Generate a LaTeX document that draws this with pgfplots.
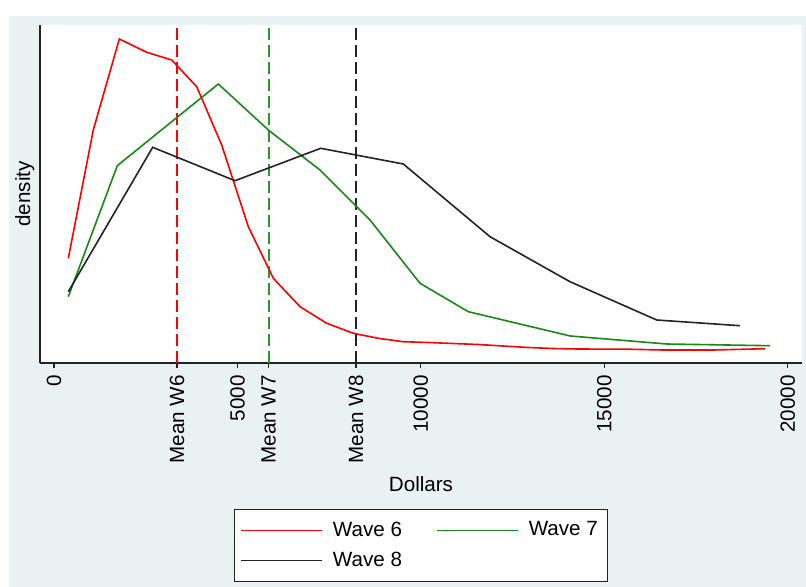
\documentclass[border=0pt]{standalone}
\usepackage{fontspec}
\setmainfont{Liberation Sans}
\usepackage{pgfplots}
\pgfplotsset{compat=1.18}
\definecolor{bgblue}{RGB}{234,241,243}
\definecolor{sgreen}{RGB}{25,135,25}
\definecolor{dgreen}{RGB}{40,155,40}
\definecolor{sblack}{RGB}{35,35,35}
\begin{document}
\fontsize{10.3}{12.4}\selectfont
\begin{tikzpicture}
\fill[white] (0,0) rectangle (403pt,-293.5pt);
\fill[bgblue] (4.5pt,-8pt) rectangle (403pt,-293.5pt);
\begin{axis}[
  at={(20pt,-181.5pt)}, anchor=south west,
  width=381pt, height=169pt, scale only axis,
  xmin=-381.6, xmax=20390, ymin=0, ymax=338,
  scaled x ticks=false,
  axis x line*=bottom, axis y line*=left,
  axis line style={-, draw=sblack, line width=0.7pt},
  axis background/.style={fill=white},
  xtick={0,5000,10000,15000,20000},
  xticklabels={0,5000,10000,15000,20000},
  extra x ticks={3353,5852,8232},
  extra x tick labels={Mean W6,Mean W7,Mean W8},
  extra x tick style={grid=none},
  ytick=\empty,
  tick align=outside, major tick length=2.5pt,
  tick style={sblack, line width=0.6pt},
  xticklabel style={rotate=90, anchor=east, font=\fontsize{10.3}{12}\selectfont, text=black},
  xlabel={Dollars},
  xlabel style={at={(axis description cs:0.5,-0.358)}, anchor=center, font=\fontsize{10.3}{12}\selectfont},
  ylabel={density},
  ylabel style={at={(axis description cs:-0.020,0.5)}, anchor=center, font=\fontsize{10.3}{12}\selectfont},
  no markers,
  legend columns=2,
  legend cell align=left,
  legend style={at={(axis description cs:0.5,-0.432)}, anchor=north,
    draw=sblack, fill=white, line width=0.6pt,
    font=\fontsize{10.3}{12}\selectfont,
    /tikz/every even column/.append style={column sep=15pt},
    inner xsep=3pt, inner ysep=4pt, row sep=2.5pt},
  legend image code/.code={\draw[#1, line width=0.6pt] (0pt,0pt) -- (40.5pt,0pt); \path[draw=none, fill=none] (44pt,0pt) circle (0.1pt);},
]
% mean lines
\addplot[red, line width=0.75pt, dash pattern=on 6pt off 2.5pt, forget plot] coordinates {(3353,0) (3353,338)};
\addplot[dgreen, line width=0.9pt, dash pattern=on 6pt off 2.5pt, forget plot] coordinates {(5852,0) (5852,338)};
\addplot[sblack, line width=0.75pt, dash pattern=on 6pt off 2.5pt, forget plot] coordinates {(8232,0) (8232,338)};
% Wave 6
\addplot[red, line width=0.8pt] coordinates {
(390,104.7) (1071,233) (1780,324) (2527,310.7) (3208,303) (3890,276.3)
(4571,218) (5297,136.3) (5978,84.7) (6706,56.3) (7434,39.7) (8159,29.7)
(8840,24.7) (9522,21.3) (10203,20.5) (10884,19.5) (11565,18.5) (12246,17)
(12927,15.5) (13608,14.5) (14289,14) (15652,13.8) (16600,13) (17966,13)
(19382,14.3)};
\addlegendentry{Wave 6}
% Wave 7
\addplot[sgreen, line width=0.8pt] coordinates {
(390,66.3) (1725,197.3) (4479,279) (5842,233) (7251,193) (8614,143)
(9977,79.7) (11294,51.3) (14075,27) (16710,19) (19518,17.3)};
\addlegendentry{Wave 7}
% Wave 8
\addplot[sblack, line width=0.8pt] coordinates {
(390,71.3) (2690,215.7) (4934,182.3) (7270,214.7) (9522,199) (11885,126.3)
(14066,81.3) (16429,43) (18700,37.3)};
\addlegendentry{Wave 8}
\end{axis}
\end{tikzpicture}
\end{document}
